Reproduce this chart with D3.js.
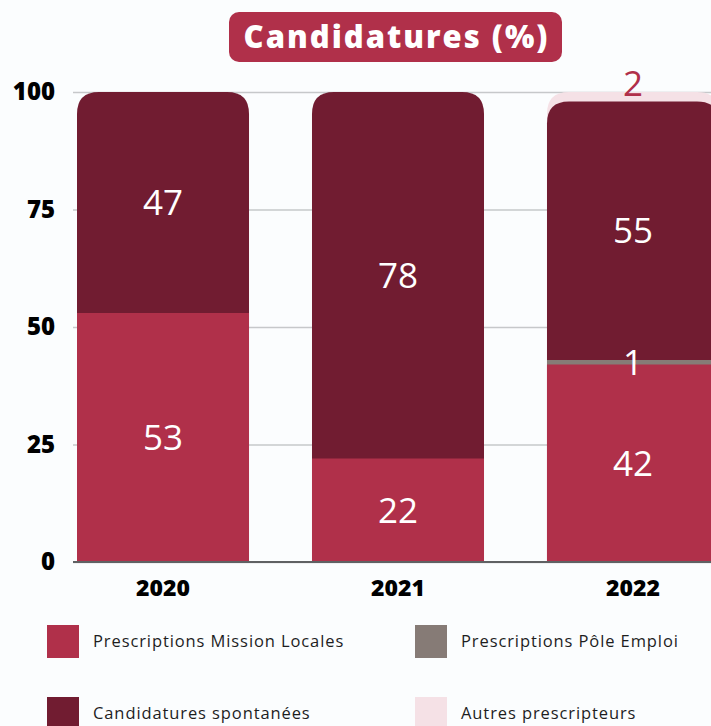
<!DOCTYPE html>
<html>
<head>
<meta charset="utf-8">
<script src="https://cdn.jsdelivr.net/npm/d3@7"></script>
<style>
  html, body { margin: 0; padding: 0; background: #fbfdfe; }
  svg { display: block; font-family: "Open Sans", sans-serif; }
</style>
</head>
<body>
<svg id="svg-chart"></svg>
<script>
const width = 711;
const height = 726;

// data
const years = ["2020", "2021", "2022"];
const seriesNames = [
  "Prescriptions Mission Locales",
  "Prescriptions Pôle Emploi",
  "Candidatures spontanées",
  "Autres prescripteurs",
];
const missionLocales = [53, 22, 42];
const poleEmploi = [0, 0, 1];
const spontanees = [47, 78, 55];
const autres = [0, 0, 2];
const yTicks = [0, 25, 50, 75, 100];
const colors = ["#b0304a", "#867b76", "#711c31", "#f5e1e6"];

const margin = { left: 73, right: 0, top: 92, bottom: 164 };

const svg = d3.select("#svg-chart").attr("width", width).attr("height", height);

const table = years.map(function (y, i) {
  return {
    year: y,
    s0: missionLocales[i],
    s1: poleEmploi[i],
    s2: spontanees[i],
    s3: autres[i],
  };
});
const keys = ["s0", "s1", "s2", "s3"];
const stacked = d3.stack().keys(keys)(table);

const xScale = d3
  .scaleBand()
  .domain(years)
  .range([77, 719])
  .paddingInner(0.268)
  .paddingOuter(0);

const yScale = d3
  .scaleLinear()
  .domain([0, 100])
  .range([height - margin.bottom, margin.top]);

// grid
svg
  .append("g")
  .attr("transform", "translate(" + margin.left + ",0)")
  .call(d3.axisLeft(yScale).tickValues(yTicks).tickSize(-(width - margin.left)).tickFormat(""))
  .call(function (g) {
    g.select(".domain").remove();
    g.selectAll("line").attr("stroke", "#c6c8ca").attr("stroke-width", 1.3);
  });

// y labels
svg
  .append("g")
  .attr("transform", "translate(" + margin.left + ",0)")
  .call(d3.axisLeft(yScale).tickValues(yTicks).tickSize(0).tickPadding(18))
  .call(function (g) {
    g.select(".domain").remove();
    g.selectAll("text")
      .attr("font-family", "Open Sans")
      .attr("font-weight", 800)
      .attr("font-size", 24)
      .attr("fill", "#000");
  });

// bars: draw top series first, every segment runs down to the baseline
const r = 22;
function barPath(x, y0, y1, w, rounded) {
  const rr = rounded ? Math.min(r, (y0 - y1)) : 0;
  return (
    "M" + x + "," + y0 +
    "V" + (y1 + rr) +
    "Q" + x + "," + y1 + " " + (x + rr) + "," + y1 +
    "H" + (x + w - rr) +
    "Q" + (x + w) + "," + y1 + " " + (x + w) + "," + (y1 + rr) +
    "V" + y0 + "Z"
  );
}

const layers = stacked.slice().reverse();
svg
  .append("g")
  .selectAll("g")
  .data(layers)
  .join("g")
  .attr("fill", function (d) {
    return colors[keys.indexOf(d.key)];
  })
  .each(function (layer) {
    const idx = keys.indexOf(layer.key);
    d3.select(this)
      .selectAll("path")
      .data(layer.filter(function (d) { return d[1] - d[0] > 0; }))
      .join("path")
      .attr("d", function (d) {
        return barPath(
          xScale(d.data.year),
          yScale(0),
          yScale(d[1]),
          xScale.bandwidth(),
          idx >= 2
        );
      });
  });

// baseline
svg
  .append("line")
  .attr("x1", margin.left)
  .attr("x2", width)
  .attr("y1", yScale(0))
  .attr("y2", yScale(0))
  .attr("stroke", "#5f6163")
  .attr("stroke-width", 2);

// value labels
stacked.forEach(function (layer) {
  const idx = keys.indexOf(layer.key);
  svg
    .append("g")
    .selectAll("text")
    .data(layer.filter(function (d) { return d[1] - d[0] > 0; }))
    .join("text")
    .attr("x", function (d) {
      return xScale(d.data.year) + xScale.bandwidth() / 2;
    })
    .attr("y", function (d) {
      if (idx === 3) return yScale(d[1]) + 4;
      return yScale((d[0] + d[1]) / 2);
    })
    .attr("dy", idx === 3 ? "0" : "0.35em")
    .attr("text-anchor", "middle")
    .attr("font-family", "Open Sans")
    .attr("font-size", 35)
    .attr("fill", idx === 3 ? "#b0304a" : "#fff")
    .text(function (d) {
      return d[1] - d[0];
    });
});

// x labels
svg
  .append("g")
  .attr("transform", "translate(0," + yScale(0) + ")")
  .call(d3.axisBottom(xScale).tickSize(0).tickPadding(18))
  .call(function (g) {
    g.select(".domain").remove();
    g.selectAll("text")
      .attr("font-family", "Open Sans")
      .attr("font-weight", 800)
      .attr("font-size", 23)
      .attr("fill", "#000");
  });

// title
const title = svg.append("g");
title
  .append("rect")
  .attr("x", 229)
  .attr("y", 12)
  .attr("width", 333)
  .attr("height", 50)
  .attr("rx", 10)
  .attr("fill", "#b0304a");
title
  .append("text")
  .attr("x", 396.5)
  .attr("y", 37)
  .attr("dy", "0.35em")
  .attr("text-anchor", "middle")
  .attr("font-family", "Open Sans")
  .attr("font-weight", 800)
  .attr("font-size", 31)
  .attr("letter-spacing", 2)
  .attr("fill", "#fff")
  .text("Candidatures (%)");

// legend
const legendPos = [
  { x: 47, y: 625 },
  { x: 415, y: 625 },
  { x: 47, y: 697 },
  { x: 415, y: 697 },
];
const legend = svg
  .append("g")
  .selectAll("g")
  .data(seriesNames)
  .join("g")
  .attr("transform", function (d, i) {
    return "translate(" + legendPos[i].x + "," + legendPos[i].y + ")";
  });
legend
  .append("rect")
  .attr("width", 32)
  .attr("height", 33)
  .attr("fill", function (d, i) {
    return colors[i];
  });
legend
  .append("text")
  .attr("x", 46)
  .attr("y", 16)
  .attr("dy", "0.35em")
  .attr("font-family", "Open Sans")
  .attr("font-size", 16.5)
  .attr("letter-spacing", 0.9)
  .attr("fill", "#1e1e1e")
  .text(function (d) {
    return d;
  });
</script>
</body>
</html>
